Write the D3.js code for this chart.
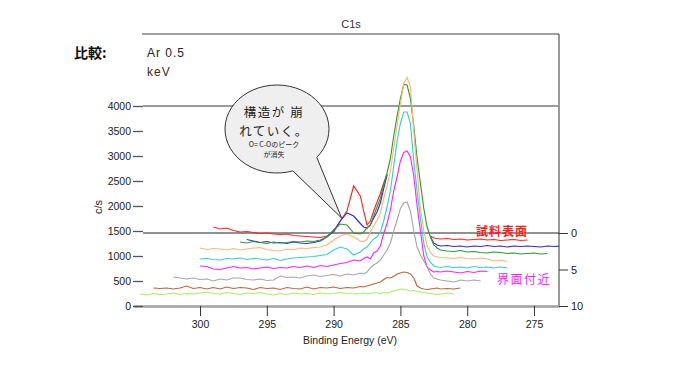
<!DOCTYPE html>
<html>
<head>
<meta charset="utf-8">
<script src="https://cdn.jsdelivr.net/npm/d3@7"></script>
<style>
  body { margin: 0; background: #fff; }
  svg { display: block; font-family: "Liberation Sans", Arial, sans-serif; }
</style>
</head>
<body>
<div id="chart"></div>
<script>
// binding energy grid (eV), finer steps across the main C1s peak
const energy = [
  305, 304.5, 304, 303.5, 303, 302.5, 302, 301.5, 301, 300.5,
  300, 299.5, 299, 298.5, 298, 297.5, 297, 296.5, 296, 295.5,
  295, 294.5, 294, 293.5, 293, 292.5, 292, 291.5, 291, 290.5,
  290, 289.5, 289, 288.5, 288,
  287.75, 287.5, 287.25, 287, 286.75, 286.5, 286.25, 286, 285.75, 285.5,
  285.25, 285, 284.75, 284.5, 284.25, 284, 283.75, 283.5, 283.25, 283,
  282.75, 282.5, 282.25, 282,
  281.5, 281, 280.5, 280, 279.5, 279, 278.5, 278, 277.5, 277,
  276.5, 276, 275.5, 275, 274.5, 274, 273.5, 273
];

// counts (c/s) per trace, starting at the given energy
// (null = hidden under the other traces at the main peak)
const redStart = 299;
const red = [1580, 1540, 1560, 1510, 1480, 1490, 1470, 1450, 1460, 1440, 1430, 1440, 1410, 1400, 1390, 1380, 1370, 1400,
  1480, 1700, 1900, 2400, 2200, 1900, 1620, 1700, 1900, 2080, 2250, 2460, 2640,
  null, null, null, null, null, null, null, null, null, null, null, null, 1400,
  1360, 1350, 1340, 1350, 1330, 1340, 1320, 1330, 1340, 1320, 1330, 1310, 1320, 1330, 1310, 1320];

const blueStart = 296.5;
const blue = [1330, 1300, 1270, 1290, 1260, 1270, 1250, 1280, 1260, 1250, 1270, 1300, 1380,
  1500, 1700, 1860, 1800, 1650, 1580, 1560, 1620, 1760, 1880, 2060, 2350, 2620,
  null, null, null, null, null, null, null, null, null, null, null, null, 1380,
  1260, 1220, 1200, 1210, 1190, 1200, 1180, 1200, 1190, 1210, 1190, 1200, 1180, 1200, 1190, 1200, 1190, 1180, 1200,
  1190, 1200];

const greenStart = 297;
const green = [1280, 1260, 1290, 1270, 1250, 1280, 1260, 1270, 1290, 1280, 1300, 1290, 1320, 1380, 1520, 1640,
  1620, 1460, 1440, 1480, 1560, 1620, 1800, 1980, 2150, 2420, 2660, 2950, 3400, 3800, 4150, 4430, 4420, 4150,
  3600, 2950, 2450, 1950, 1580, 1380, 1220, 1160, 1120, 1100, 1090, 1110, 1080, 1090, 1070, 1060, 1080, 1070,
  1050, 1060, 1040, 1050, 1060, 1040, 1050];

const orangeStart = 300;
const orange = [1160, 1130, 1150, 1140, 1120, 1150, 1120, 1140, 1160, 1170, 1130, 1110, 1100, 1140, 1120, 1160,
  1150, 1170, 1180, 1220, 1320, 1400, 1440, 1380, 1300, 1290, 1330, 1480, 1600, 1720, 1860, 2150, 2400, 2700,
  3150, 3600, 4050, 4450, 4570, 4380, 3500, 2700, 1950, 1500, 1200, 1060, 1000, 980, 970, 960, 950, 970, 950,
  940, 960, 940, 900, 920, 890];

const cyanStart = 300;
const cyan = [940, 950, 930, 920, 950, 940, 960, 930, 950, 940, 920, 950, 910, 940, 960, 970, 980, 990, 1010,
  1030, 1120, 1180, 1140, 1020, 1080, 1140, 1180, 1260, 1340, 1380, 1480, 1700, 1980, 2300, 2800, 3300, 3650,
  3880, 3880, 3650, 2900, 2300, 1750, 1250, 980, 870, 800, 780, 770, 790, 770, 780, 760, 790, 770, 780, 760,
  780, 760];

const magentaStart = 300;
const magenta = [800, 790, 740, 730, 760, 790, 760, 770, 740, 760, 780, 750, 770, 760, 790, 770, 800, 770, 810,
  790, 820, 850, 870, 920, 900, 950, 980, 940, 1060, 1100, 1200, 1450, 1650, 1920, 2300, 2580, 2900, 3070, 3100,
  2980, 2600, 2000, 1500, 1000, 780, 720, 680, 690, 680, 700, 680, 660, 690, 670, 700, 690];

const grayStart = 302;
const gray = [580, 560, 540, 560, 530, 540, 500, 540, 520, 560, 560, 530, 520, 540, 510, 520, 600, 570, 580, 560,
  600, 620, 590, 610, 630, 600, 640, 620, 660, 640, 680, 760, 820, 860, 920, 1020, 1120, 1260, 1500, 1720, 1950,
  2060, 2080, 1900, 1500, 1180, 1020, 900, 780, 640, 560, 540, 520, 500, 480, 520, 500, 520, 500];

const brownStart = 303.5;
const brown = [360, 350, 360, 340, 360, 400, 350, 370, 340, 370, 340, 380, 350, 370, 360, 330, 370, 350, 360, 330,
  370, 350, 340, 380, 340, 370, 360, 380, 350, 370, 360, 390, 380, 400, 420, 440, 460, 480, 530, 570, 560, 590,
  640, 660, 680, 670, 640, 560, 400, 360, 340, 330, 340, 350, 360, 340, 350, 340, 360];

const limeStart = 304.5;
const lime = [240, 220, 250, 230, 240, 260, 230, 250, 240, 260, 280, 250, 240, 270, 250, 230, 260, 250, 270, 240,
  220, 250, 230, 260, 240, 250, 230, 260, 240, 250, 270, 250, 240, 250, 260, 240, 250, 270, 260, 250, 270, 260,
  280, 300, 320, 340, 330, 320, 300, 310, 290, 280, 270, 260, 250, 240, 230, 240, 260, 240];

const traces = [
  { start: redStart, counts: red, color: "#ff2424" },
  { start: blueStart, counts: blue, color: "#2a2aff" },
  { start: greenStart, counts: green, color: "#2f9a2f" },
  { start: orangeStart, counts: orange, color: "#ffb576" },
  { start: cyanStart, counts: cyan, color: "#33d0d0" },
  { start: magentaStart, counts: magenta, color: "#ff22ff" },
  { start: grayStart, counts: gray, color: "#a8a8a8" },
  { start: brownStart, counts: brown, color: "#b8683c" },
  { start: limeStart, counts: lime, color: "#a6ee62" }
];

const xTicks = [300, 295, 290, 285, 280, 275];
const yTicks = [0, 500, 1000, 1500, 2000, 2500, 3000, 3500, 4000];
const depthTicks = [0, 5, 10];

const svg = d3.select("#chart").append("svg")
  .attr("width", 700)
  .attr("height", 376);

const x = d3.scaleLinear().domain([305, 273.1]).range([133.2, 559.4]);
const y = d3.scaleLinear().domain([0, 4000]).range([306, 106]);
const depth = d3.scaleLinear().domain([0, 10]).range([233, 306]);

const plotLeft = 143, plotRight = 559, plotTop = 34;

svg.append("defs").append("clipPath").attr("id", "plot")
  .append("rect")
  .attr("x", x.range()[0]).attr("y", plotTop)
  .attr("width", plotRight - x.range()[0]).attr("height", y(0) - plotTop);

// frame (top line + right axis line)
svg.append("line")
  .attr("x1", plotLeft - 1).attr("x2", plotRight).attr("y1", plotTop).attr("y2", plotTop)
  .style("stroke", "#444").style("stroke-width", 1);
svg.append("line")
  .attr("x1", plotRight).attr("x2", plotRight).attr("y1", plotTop).attr("y2", y(0))
  .style("stroke", "#333").style("stroke-width", 1);

// reference line at 4000
svg.append("line")
  .attr("x1", plotLeft).attr("x2", plotRight).attr("y1", y(4000)).attr("y2", y(4000))
  .style("stroke", "#9a9a9a").style("stroke-width", 2);

// depth-axis zero line
svg.append("line")
  .attr("x1", plotLeft).attr("x2", plotRight).attr("y1", depth(0)).attr("y2", depth(0))
  .style("stroke", "#222").style("stroke-width", 1);

// traces
const line = d3.line()
  .defined(d => d[1] != null)
  .x(d => x(d[0]))
  .y(d => y(d[1]));

const plot = svg.append("g").attr("clip-path", "url(#plot)");
traces.forEach(t => {
  const i0 = energy.indexOf(t.start);
  const pts = t.counts.map((c, i) => [energy[i0 + i], c]);
  plot.append("path")
    .datum(pts)
    .attr("fill", "none")
    .attr("stroke", t.color)
    .attr("stroke-width", 1.15)
    .attr("d", line);
});

// x axis
const xAxis = svg.append("g")
  .attr("transform", `translate(0,${y(0)})`)
  .call(d3.axisBottom(x).tickValues(xTicks).tickSize(10).tickSizeOuter(0).tickPadding(5));
xAxis.select(".domain").style("stroke", "#a0a0a0").style("stroke-width", 2.5);
xAxis.selectAll(".tick line").style("stroke", "#333");
xAxis.selectAll(".tick text").style("font-size", "10.5px").style("fill", "#222");

// y axis
const yAxis = svg.append("g")
  .attr("transform", `translate(${plotLeft},0)`)
  .call(d3.axisLeft(y).tickValues(yTicks).tickFormat(d3.format("d")).tickSize(10).tickPadding(2));
yAxis.select(".domain").remove();
yAxis.selectAll(".tick line").style("stroke", "#555").style("stroke-width", 1.3);
yAxis.selectAll(".tick text").style("font-size", "10.5px").style("fill", "#222");

// right (depth) axis
const rAxis = svg.append("g")
  .attr("transform", `translate(${plotRight},0)`)
  .call(d3.axisRight(depth).tickValues(depthTicks).tickSize(9).tickPadding(3));
rAxis.select(".domain").remove();
rAxis.selectAll(".tick line").style("stroke", "#333");
rAxis.selectAll(".tick text").style("font-size", "11px").style("fill", "#222");

// labels
svg.append("text")
  .attr("x", 351).attr("y", 28)
  .attr("text-anchor", "middle")
  .style("font-size", "11px").style("fill", "#333")
  .text("C1s");

svg.append("text")
  .attr("x", 350).attr("y", 344)
  .attr("text-anchor", "middle")
  .style("font-size", "10.5px").style("fill", "#222")
  .text("Binding Energy (eV)");

svg.append("text")
  .attr("transform", "translate(102,207) rotate(-90)")
  .attr("text-anchor", "middle")
  .style("font-size", "11px").style("fill", "#222")
  .text("c/s");

svg.append("text")
  .attr("x", 74).attr("y", 58)
  .style("font-family", "'Noto Sans CJK JP', sans-serif")
  .style("font-size", "14px").style("font-weight", "bold").style("fill", "#111")
  .text("比較:");

svg.append("text")
  .attr("x", 147).attr("y", 57)
  .style("font-size", "12px").style("letter-spacing", "1px").style("fill", "#222")
  .text("Ar 0.5");
svg.append("text")
  .attr("x", 147).attr("y", 76)
  .style("font-size", "12px").style("letter-spacing", "1px").style("fill", "#3a2a18")
  .text("keV");

svg.append("text")
  .attr("x", 476).attr("y", 236)
  .style("font-family", "'Noto Sans CJK JP', sans-serif")
  .style("font-size", "12px").style("font-weight", "bold").style("letter-spacing", "1px")
  .style("fill", "#ff1a1a")
  .text("試料表面");

svg.append("text")
  .attr("x", 497).attr("y", 284)
  .style("font-family", "'Noto Sans CJK JP', sans-serif")
  .style("font-size", "12px").style("letter-spacing", "1.5px")
  .style("fill", "#ff1aff")
  .text("界面付近");

// speech bubble pointing at the vanishing O=C-O peak
const bcx = 277, bcy = 129, brx = 52, bry = 44;
const tipX = x(289.4), tipY = y(1760);
const a1 = 0.70, a2 = 1.26; // angles of the tail base on the ellipse
const p1 = [bcx + brx * Math.cos(a1), bcy + bry * Math.sin(a1)];
const p2 = [bcx + brx * Math.cos(a2), bcy + bry * Math.sin(a2)];
svg.append("path")
  .attr("d", `M${p1[0]},${p1[1]} L${tipX},${tipY} L${p2[0]},${p2[1]} A${brx},${bry} 0 1 1 ${p1[0]},${p1[1]} Z`)
  .attr("fill", "#efefef")
  .attr("stroke", "#333")
  .attr("stroke-width", 1);

const bubbleText = [
  { t: "構造が 崩", y: 117, size: 12.5 },
  { t: "れていく。", y: 136, size: 12.5 },
  { t: "O= C-Oのピーク", y: 147, size: 7 },
  { t: "が消失", y: 157, size: 7 }
];
bubbleText.forEach(b => {
  svg.append("text")
    .attr("x", 274).attr("y", b.y)
    .attr("text-anchor", "middle")
    .style("font-family", "'Noto Sans CJK JP', sans-serif")
    .style("font-size", b.size + "px")
    .style("letter-spacing", b.size > 10 ? "1.5px" : "0px")
    .style("fill", "#222")
    .text(b.t);
});
</script>
</body>
</html>
